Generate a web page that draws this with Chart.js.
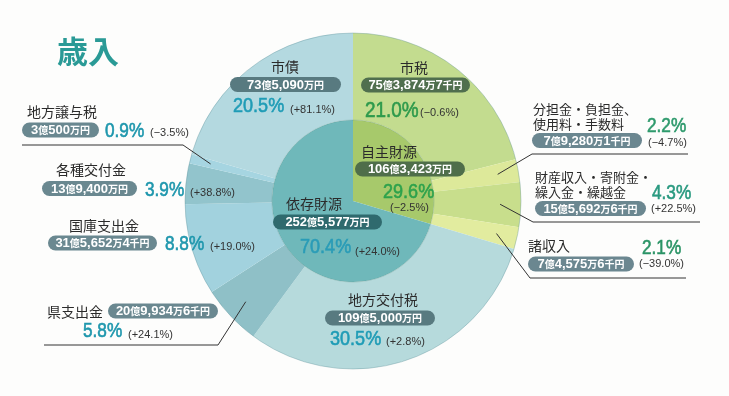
<!DOCTYPE html>
<html lang="ja">
<head>
<meta charset="utf-8">
<script src="https://cdn.jsdelivr.net/npm/chart.js@4/dist/chart.umd.min.js"></script>
<style>
html,body{margin:0;padding:0;background:#fdfdfc;}
#wrap{position:relative;width:729px;height:396px;}
</style>
</head>
<body>
<div id="wrap"><canvas id="c"></canvas></div>
<script>
// ---- data ----
const title = '歳入';
const categories = ['市税','分担金・負担金、\n使用料・手数料','財産収入・寄附金・\n繰入金・繰越金','諸収入','地方交付税','県支出金','国庫支出金','各種交付金','地方譲与税','市債'];
const shares = [21.0, 2.2, 4.3, 2.1, 30.5, 5.8, 8.8, 3.9, 0.9, 20.5];
const amounts = ['75億3,874万7千円','7億9,280万1千円','15億5,692万6千円','7億4,575万6千円','109億5,000万円','20億9,934万6千円','31億5,652万4千円','13億9,400万円','3億500万円','73億5,090万円'];
const changes = ['(−0.6%)','(−4.7%)','(+22.5%)','(−39.0%)','(+2.8%)','(+24.1%)','(+19.0%)','(+38.8%)','(−3.5%)','(+81.1%)'];
const groups = ['自主財源','依存財源'];
const groupShares = [29.6, 70.4];
const groupAmounts = ['106億3,423万円','252億5,577万円'];
const groupChanges = ['(−2.5%)','(+24.0%)'];

// ---- styles / layout ----
const outerColors = ['#c3dc8f','#dde99a','#c8de8c','#e2ec9f','#b6dadc','#8fc0c7','#a2d2de','#92c4cc','#a6d5e1','#b4d9e0'];
const innerColors = ['#a7c96b','#6fb8ba'];
const SANS = '"Liberation Sans", Arial, sans-serif';
const CJK = '"Noto Sans CJK JP", "Noto Sans", sans-serif';

const outerLayout = [
  {name:{x:414,y:68,a:'center',s:14}, pill:{x:361,y:85,w:109,c:'#506f4e'}, pct:{x:365,y:117,s:22,c:'#2e9a4c'}, chg:{x:420,y:113}},
  {name:{x:533,y:109,a:'left',s:13,lh:15}, pill:{x:532,y:140.5,w:110,c:'#6b8790'}, pct:{x:647,y:132,s:20,c:'#2e9a6c'}, chg:{x:648,y:143},
   leader:{h:[688,154], e:[532,154]}},
  {name:{x:535,y:177,a:'left',s:13,lh:15}, pill:{x:535,y:208.5,w:111,c:'#6b8790'}, pct:{x:652,y:199,s:20,c:'#2a9a80'}, chg:{x:651,y:209},
   leader:{h:[700,222], e:[533,222]}},
  {name:{x:528,y:246,a:'left',s:14}, pill:{x:528,y:264,w:106,c:'#6b8790'}, pct:{x:642,y:254,s:20,c:'#2b9466'}, chg:{x:639,y:264},
   leader:{h:[686,278], e:[530,278]}},
  {name:{x:383,y:300,a:'center',s:14}, pill:{x:325,y:318,w:110,c:'#587a80'}, pct:{x:330,y:345,s:21,c:'#1f9cb6'}, chg:{x:386,y:342}},
  {name:{x:47,y:312,a:'left',s:14}, pill:{x:108,y:311,w:110,c:'#6a8890'}, pct:{x:83,y:337,s:20,c:'#1f97ad'}, chg:{x:128,y:335},
   leader:{h:[44,345], e:[218,345]}},
  {name:{x:104,y:226,a:'center',s:14}, pill:{x:48,y:243,w:109,c:'#6a8890'}, pct:{x:165,y:250,s:20,c:'#1f97ad'}, chg:{x:210,y:247}},
  {name:{x:91,y:170,a:'center',s:14}, pill:{x:42,y:188.5,w:95,c:'#6a8890'}, pct:{x:145,y:196,s:20,c:'#1f97ad'}, chg:{x:190,y:193}},
  {name:{x:27,y:112,a:'left',s:14}, pill:{x:22,y:130,w:77,c:'#6a8890'}, pct:{x:105,y:137,s:20,c:'#1f97ad'}, chg:{x:150,y:133},
   leader:{h:[22,145], e:[183,145]}},
  {name:{x:285,y:67,a:'center',s:14}, pill:{x:230,y:84.5,w:111,c:'#587a80'}, pct:{x:233,y:112,s:21,c:'#1f9cb6'}, chg:{x:290,y:110}}
];
const innerLayout = [
  {name:{x:389,y:152,a:'center',s:14}, pill:{x:355,y:169,w:110,c:'#4f6e4a'}, pct:{x:383,y:198,s:21,c:'#2ea24c'}, chg:{x:390,y:208}},
  {name:{x:314,y:204,a:'center',s:14}, pill:{x:273,y:222,w:109,c:'#2f6a6e'}, pct:{x:300,y:253,s:21,c:'#2a9cb7'}, chg:{x:355,y:252}}
];

function richText(ctx, text, x, y, align){
  const runs = [];
  const re = /([0-9,]+)|([^0-9,]+)/g; let m;
  while((m = re.exec(text))){ runs.push({t:m[0], num:!!m[1]}); }
  let total = 0;
  runs.forEach(r=>{
    ctx.font = r.num ? 'bold 13px '+SANS : 'bold 10px '+CJK;
    r.w = ctx.measureText(r.t).width; total += r.w;
  });
  let cx = align==='center' ? x - total/2 : x;
  ctx.textBaseline = 'middle'; ctx.textAlign = 'left';
  runs.forEach(r=>{
    ctx.font = r.num ? 'bold 13px '+SANS : 'bold 10px '+CJK;
    ctx.fillText(r.t, cx, y+0.5);
    cx += r.w;
  });
}
function pill(ctx, p, text){
  const h = 15, r = 7.5;
  ctx.fillStyle = p.c;
  ctx.beginPath();
  ctx.roundRect(p.x, p.y - h/2, p.w, h, r);
  ctx.fill();
  ctx.fillStyle = '#ffffff';
  richText(ctx, text, p.x + p.w/2, p.y, 'center');
}
function pct(ctx, p, text){
  ctx.save();
  ctx.translate(p.x, p.y);
  ctx.scale(0.86, 1);
  ctx.font = p.s + 'px ' + SANS;
  ctx.fillStyle = p.c; ctx.strokeStyle = p.c; ctx.lineWidth = 0.6;
  ctx.textAlign = 'left'; ctx.textBaseline = 'alphabetic';
  ctx.fillText(text, 0, 0);
  ctx.strokeText(text, 0, 0);
  ctx.restore();
}
function chg(ctx, p, text){
  ctx.font = '11px ' + SANS;
  ctx.fillStyle = '#333333';
  ctx.textAlign = 'left'; ctx.textBaseline = 'middle';
  ctx.fillText(text, p.x, p.y);
}
function name(ctx, n, text){
  ctx.font = n.s + 'px ' + CJK;
  ctx.fillStyle = '#2b2b2b';
  ctx.textAlign = n.a; ctx.textBaseline = 'middle';
  text.split('\n').forEach((ln,i)=> ctx.fillText(ln, n.x, n.y + i*(n.lh||16)));
}

const labelPlugin = {
  id:'labels',
  afterDatasetsDraw(chart){
    const ctx = chart.ctx;
    const outer = chart.getDatasetMeta(0).data;
    const inner = chart.getDatasetMeta(1).data;
    ctx.save();
    const a0 = outer[0];
    ctx.strokeStyle = 'rgba(90,140,150,0.35)'; ctx.lineWidth = 1;
    ctx.beginPath(); ctx.arc(a0.x, a0.y, a0.outerRadius, 0, Math.PI*2); ctx.stroke();
    ctx.strokeStyle = 'rgba(80,130,120,0.25)';
    ctx.beginPath(); ctx.arc(inner[0].x, inner[0].y, inner[0].outerRadius, 0, Math.PI*2); ctx.stroke();
    ctx.font = 'bold 31px ' + CJK;
    ctx.fillStyle = '#2a9a96';
    ctx.textAlign = 'left'; ctx.textBaseline = 'middle';
    ctx.fillText(title, 57, 51);
    ctx.strokeStyle = '#333333'; ctx.lineWidth = 1;
    outerLayout.forEach((L,i)=>{
      if(!L.leader) return;
      const arc = outer[i];
      const mid = (arc.startAngle + arc.endAngle)/2;
      const r = arc.innerRadius + 0.76*(arc.outerRadius - arc.innerRadius);
      const px = arc.x + Math.cos(mid)*r, py = arc.y + Math.sin(mid)*r;
      ctx.beginPath();
      ctx.moveTo(L.leader.h[0], L.leader.h[1]);
      ctx.lineTo(L.leader.e[0], L.leader.e[1]);
      ctx.lineTo(px, py);
      ctx.stroke();
    });
    outerLayout.forEach((L,i)=>{
      name(ctx, L.name, categories[i]);
      pill(ctx, L.pill, amounts[i]);
      pct(ctx, L.pct, shares[i].toFixed(1) + '%');
      chg(ctx, L.chg, changes[i]);
    });
    innerLayout.forEach((L,i)=>{
      name(ctx, L.name, groups[i]);
      pill(ctx, L.pill, groupAmounts[i]);
      pct(ctx, L.pct, groupShares[i].toFixed(1) + '%');
      chg(ctx, L.chg, groupChanges[i]);
    });
    ctx.restore();
  }
};

new Chart(document.getElementById('c'), {
  type:'doughnut',
  data:{
    labels: categories,
    datasets:[
      {data: shares, backgroundColor: outerColors, borderWidth:0, weight:87},
      {data: groupShares, backgroundColor: innerColors, borderWidth:0, weight:81}
    ]
  },
  options:{
    responsive:true, maintainAspectRatio:false, animation:false,
    cutout:0, rotation:0,
    layout:{padding:{top:33,bottom:27,left:100,right:123}},
    plugins:{legend:{display:false}, tooltip:{enabled:false}},
    events:[]
  },
  plugins:[labelPlugin]
});
</script>
</body>
</html>
